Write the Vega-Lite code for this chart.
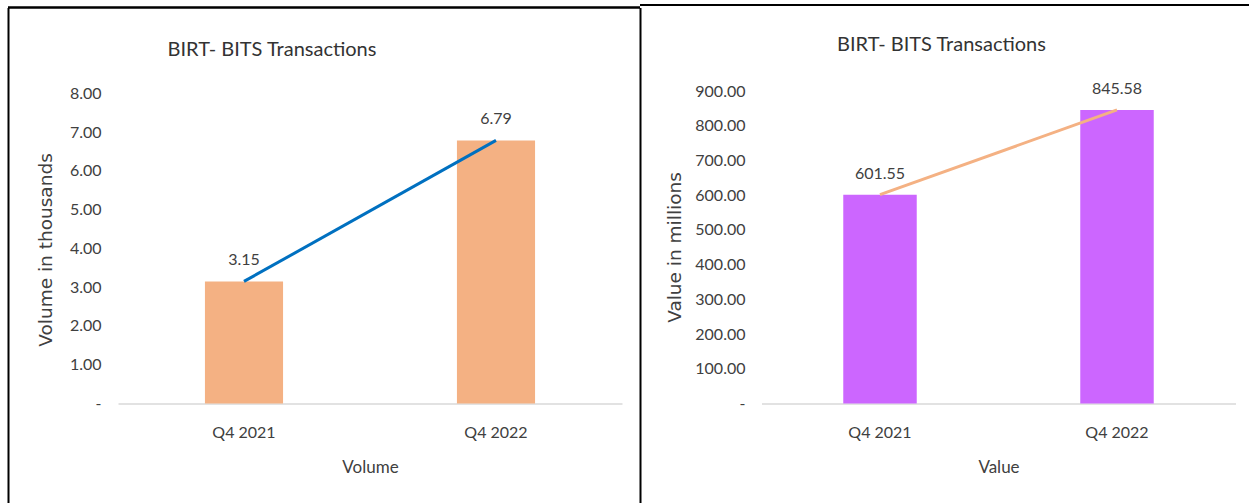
{
  "$schema": "https://vega.github.io/schema/vega-lite/v6.json",
  "padding": {"left": 7, "top": 3.5, "right": 0, "bottom": 0},
  "spacing": 0,
  "bounds": "flush",
  "config": {
    "view": {"stroke": null},
    "font": "Lato",
    "axis": {"grid": false}
  },
  "hconcat": [
    {
      "width": 632,
      "height": 495,
      "data": {"values": [
        {"quarter": "Q4 2021", "volume": 3.15},
        {"quarter": "Q4 2022", "volume": 6.79}
      ]},
      "title": {"text": "BIRT- BITS Transactions", "frame": "group", "anchor": "middle", "offset": -69, "dx": -52, "baseline": "alphabetic", "fontSize": 20, "fontWeight": "normal", "color": "#333333"},
      "layer": [
        {
          "mark": {"type": "bar", "color": "#F4B183"},
          "encoding": {
            "x": {"field": "quarter", "type": "nominal", "sort": null,
              "scale": {"range": [110, 614], "paddingInner": 0.69, "paddingOuter": 0.345},
              "axis": {"title": "Volume", "offset": -99, "labelAngle": 0, "ticks": false, "tickSize": 0, "domainColor": "#d9d9d9", "domainWidth": 1.5, "labelPadding": 34, "labelBaseline": "alphabetic", "labelFontSize": 16, "labelColor": "#404040", "titleFontSize": 17, "titleColor": "#404040", "titleFontWeight": "normal", "titleY": 68.7, "titleBaseline": "alphabetic"}},
            "y": {"field": "volume", "type": "quantitative",
              "scale": {"domain": [-2.555, 10.219], "nice": false, "zero": false},
              "axis": {"title": "Volume in thousands", "values": [0, 1, 2, 3, 4, 5, 6, 7, 8], "labelExpr": "datum.value == 0 ? '-\u00a0\u00a0' : format(datum.value, '.2f')", "ticks": false, "tickSize": 0, "domain": true, "domainColor": "#000000", "domainWidth": 2, "labelPadding": -93, "labelFontSize": 16, "labelColor": "#404040", "labelBaseline": "middle", "titleFont": "DejaVu Sans", "titleFontSize": 18.5, "titleFontWeight": "normal", "titleColor": "#404040", "titleX": 37.5, "titleY": 242, "titleAngle": -90, "titleBaseline": "middle", "titleAlign": "center"}},
            "y2": {"datum": 0}
          }
        },
        {
          "mark": {"type": "line", "color": "#0070C0", "strokeWidth": 3},
          "encoding": {
            "x": {"field": "quarter", "type": "nominal", "sort": null},
            "y": {"field": "volume", "type": "quantitative"}
          }
        },
        {
          "mark": {"type": "text", "dy": -16, "baseline": "alphabetic", "fontSize": 16, "color": "#404040"},
          "encoding": {
            "x": {"field": "quarter", "type": "nominal", "sort": null},
            "y": {"field": "volume", "type": "quantitative"},
            "text": {"field": "volume", "type": "quantitative", "format": ".2f"}
          }
        },
        {
          "mark": {"type": "rule", "color": "#000000", "strokeWidth": 2},
          "encoding": {
            "y": {"datum": 10.219, "type": "quantitative"}
          }
        }
      ]
    },
    {
      "width": 609,
      "height": 495,
      "data": {"values": [
        {"quarter": "Q4 2021", "value": 601.55},
        {"quarter": "Q4 2022", "value": 845.58}
      ]},
      "title": {"text": "BIRT- BITS Transactions", "frame": "group", "anchor": "middle", "offset": -67, "dx": -3, "baseline": "alphabetic", "fontSize": 20, "fontWeight": "normal", "color": "#333333"},
      "layer": [
        {
          "mark": {"type": "bar", "color": "#CC66FF"},
          "encoding": {
            "x": {"field": "quarter", "type": "nominal", "sort": null,
              "scale": {"range": [121.5, 595.5], "paddingInner": 0.69, "paddingOuter": 0.345},
              "axis": {"title": "Value", "offset": -99, "labelAngle": 0, "ticks": false, "tickSize": 0, "domainColor": "#d9d9d9", "domainWidth": 1.5, "labelPadding": 34, "labelBaseline": "alphabetic", "labelFontSize": 16, "labelColor": "#404040", "titleFontSize": 17, "titleColor": "#404040", "titleFontWeight": "normal", "titleY": 68.7, "titleBaseline": "alphabetic"}},
            "y": {"field": "value", "type": "quantitative",
              "scale": {"domain": [-285.1, 1140.5], "nice": false, "zero": false},
              "axis": {"title": "Value in millions", "values": [0, 100, 200, 300, 400, 500, 600, 700, 800, 900], "labelExpr": "datum.value == 0 ? '-\u00a0\u00a0' : format(datum.value, '.2f')", "ticks": false, "tickSize": 0, "domain": true, "domainColor": "#000000", "domainWidth": 2, "labelPadding": -105, "labelFontSize": 16, "labelColor": "#404040", "labelBaseline": "middle", "titleFont": "DejaVu Sans", "titleFontSize": 18.5, "titleFontWeight": "normal", "titleColor": "#404040", "titleX": 34.7, "titleY": 239.5, "titleAngle": -90, "titleBaseline": "middle", "titleAlign": "center"}},
            "y2": {"datum": 0}
          }
        },
        {
          "mark": {"type": "line", "color": "#F4B183", "strokeWidth": 3},
          "encoding": {
            "x": {"field": "quarter", "type": "nominal", "sort": null},
            "y": {"field": "value", "type": "quantitative"}
          }
        },
        {
          "mark": {"type": "text", "dy": -16, "baseline": "alphabetic", "fontSize": 16, "color": "#404040"},
          "encoding": {
            "x": {"field": "quarter", "type": "nominal", "sort": null},
            "y": {"field": "value", "type": "quantitative"},
            "text": {"field": "value", "type": "quantitative", "format": ".2f"}
          }
        },
        {
          "mark": {"type": "rule", "color": "#000000", "strokeWidth": 2},
          "encoding": {
            "y": {"datum": 1147.7, "type": "quantitative"}
          }
        }
      ]
    }
  ]
}
